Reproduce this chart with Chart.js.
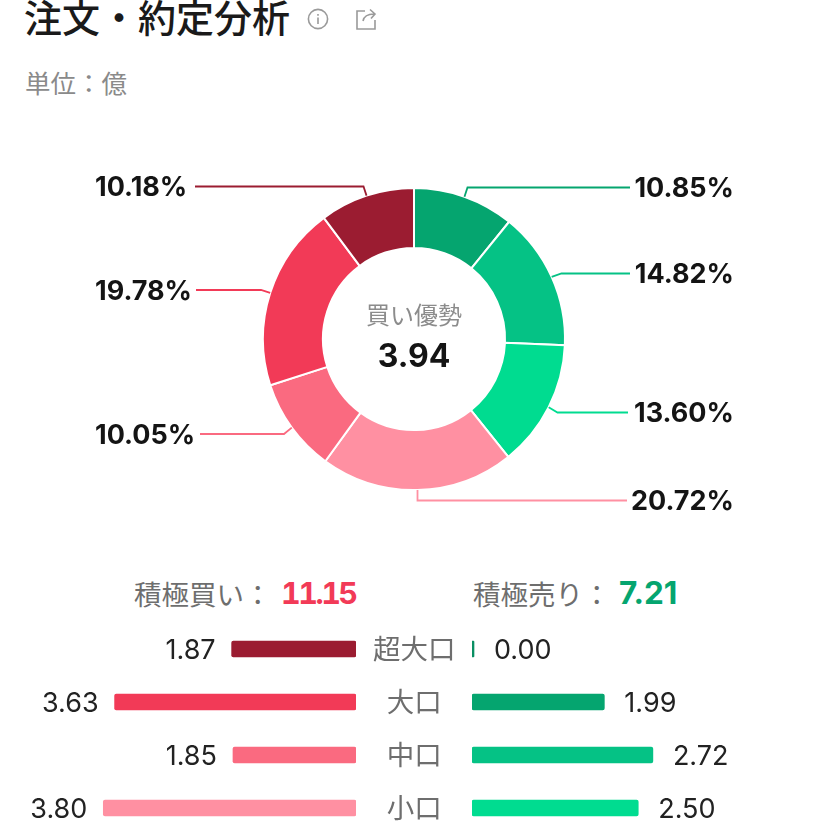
<!DOCTYPE html>
<html lang="ja">
<head>
<meta charset="utf-8">
<title>注文・約定分析</title>
<script src="https://cdn.jsdelivr.net/npm/chart.js@4"></script>
<style>
html,body{margin:0;padding:0;width:828px;height:828px;overflow:hidden;background:#fff}
body{position:relative;font-family:"Noto Sans CJK JP",sans-serif}
.t{position:absolute;white-space:nowrap}
.n{font-family:Inter,sans-serif;font-weight:700}
canvas{position:absolute;display:block}
</style>
</head>
<body>
<div class="t" style="left:24px;top:-12px;font-size:38px;line-height:56px;color:#1a1a1a;font-weight:500">注文・約定分析</div>
<svg style="position:absolute;left:306px;top:7px" width="24" height="24" viewBox="0 0 24 24" fill="none" stroke="#9a9a9a" stroke-width="1.6"><circle cx="12" cy="12" r="9.6"/><path d="M12 10.5v6.5M12 7v1.8"/></svg>
<svg style="position:absolute;left:354px;top:6px" width="24" height="24" viewBox="0 0 24 24" fill="none" stroke="#9a9a9a" stroke-width="1.6"><path d="M11 5H3v18h18v-9"/><path d="M9 15c1-5 4-7 11-7M16 3.5l5 4.5-4 4.5"/></svg>
<div class="t" style="left:25px;top:62px;font-size:25.5px;line-height:40px;color:#8a8a8a">単位：億</div>
<canvas id="donut" style="left:0;top:159px"></canvas>
<div class="t" style="left:314px;width:200px;top:294px;text-align:center;font-size:24px;line-height:40px;color:#8c8c8c">買い優勢</div>
<div class="t n" style="left:314px;width:200px;top:332px;text-align:center;font-size:32px;line-height:48px;color:#141414">3.94</div>
<div class="t" style="left:134px;top:573px;font-size:27.5px;line-height:40px;color:#6e6e6e">積極買い：</div>
<div class="t n" style="left:281px;top:573px;font-size:30.5px;line-height:40px;color:#F23A57;letter-spacing:-2.5px;font-variant-numeric:tabular-nums">11.15</div>
<div class="t" style="left:473px;top:573px;font-size:27.5px;line-height:40px;color:#6e6e6e">積極売り：</div>
<div class="t n" style="left:619px;top:573px;font-size:31.5px;line-height:40px;color:#05A56F">7.21</div>
<canvas id="buy" style="left:0;top:622px"></canvas>
<canvas id="sell" style="left:472px;top:622px"></canvas>
<script>
// Data
const shareLabels = ['10.85%','14.82%','13.60%','20.72%','10.05%','19.78%','10.18%'];
const shareValues = [10.85,14.82,13.60,20.72,10.05,19.78,10.18];
const shareColors = ['#05A56F','#05C285','#00DC90','#FF90A2','#FA6A80','#F23A57','#9B1C31'];
const tiers = ['超大口','大口','中口','小口'];
const buyValues = [1.87,3.63,1.85,3.80];
const sellValues = [0.00,1.99,2.72,2.50];
const buyColors = ['#9B1C31','#F23A57','#FA6A80','#FF90A2'];
const sellColors = ['#0A8F63','#05A56F','#05C285','#00DC90'];

// Leader-line layout (page px): elbow x, elbow y, line end x
const elbowX = [467.5,561.5,557.5,417.5,284,261,363.5];
const elbowY = [187.5,273.5,412.5,500.5,434,290,186.5];
const lineEndX = [630,630,628,627,200,196,195];
const labelRightX = 734, labelLeftX = 95;
const donutTop = 159;

const numFont = 'Inter, sans-serif';
Chart.defaults.animation = false;

const leaderPlugin = {
  id:'leaders',
  afterDatasetsDraw(chart){
    const ctx = chart.ctx, arcs = chart.getDatasetMeta(0).data;
    arcs.forEach((arc,i)=>{
      const p = arc.getProps(['x','y','startAngle','endAngle','outerRadius']);
      const a = (p.startAngle+p.endAngle)/2;
      const sx = p.x+Math.cos(a)*p.outerRadius, sy = p.y+Math.sin(a)*p.outerRadius;
      const ey = elbowY[i]-donutTop;
      ctx.save();
      ctx.strokeStyle = shareColors[i];
      ctx.lineWidth = 1.8;
      ctx.beginPath();
      ctx.moveTo(sx,sy);
      ctx.lineTo(elbowX[i],ey);
      ctx.lineTo(lineEndX[i],ey);
      ctx.stroke();
      const right = lineEndX[i]>p.x;
      ctx.fillStyle = '#141414';
      ctx.font = '700 27px '+numFont;
      ctx.textBaseline = 'middle';
      ctx.textAlign = right?'right':'left';
      ctx.fillText(shareLabels[i], right?labelRightX:labelLeftX, ey+1.5);
      ctx.restore();
    });
  }
};

function box(id,w,h){const c=document.getElementById(id);c.width=w;c.height=h;c.style.width=w+'px';c.style.height=h+'px';return c;}

new Chart(box('donut',828,360),{
  type:'doughnut',
  data:{labels:shareLabels,datasets:[{data:shareValues,backgroundColor:shareColors,borderColor:'#fff',borderWidth:2}]},
  options:{responsive:false,radius:151,cutout:'60.3%',rotation:0,
    layout:{padding:0},
    plugins:{legend:{display:false},tooltip:{enabled:false}}},
  plugins:[leaderPlugin]
});

const valuePlugin = {
  id:'values',
  afterDatasetsDraw(chart,args,opts){
    const ctx=chart.ctx, meta=chart.getDatasetMeta(0), vals=chart.data.datasets[0].data;
    ctx.save();
    ctx.font='400 27px '+numFont;
    ctx.fillStyle='#222';
    ctx.textBaseline='middle';
    ctx.textAlign=opts.dir<0?'right':'left';
    meta.data.forEach((b,i)=>{
      ctx.fillText(vals[i].toFixed(2), b.x+opts.dir*opts.gap, b.y+2);
    });
    ctx.restore();
  }
};

const pxPerUnit = 66.5;
function barChart(id,w,values,colors,reverse,withTiers,gap){
  return new Chart(box(id,w,214),{
    type:'bar',
    data:{labels:tiers,datasets:[{data:values,backgroundColor:colors,borderRadius:2,borderSkipped:false,barThickness:16,minBarLength:2}]},
    options:{responsive:false,indexAxis:'y',
      layout:{padding:{top:0.5,bottom:1.5,left:0,right:0}},
      scales:{
        x:{display:false,reverse:reverse,min:0,max:356/pxPerUnit},
        y:{display:withTiers,position:'right',
           grid:{display:false},border:{display:false},
           afterFit(s){ if(withTiers){ s.width=116; s.paddingTop=0; s.paddingBottom=0; } },
           ticks:{font:{family:'"Noto Sans CJK JP"',size:27.5},color:'#6e6e6e',padding:9,crossAlign:'center'}}
      },
      plugins:{legend:{display:false},tooltip:{enabled:false},values:{dir:reverse?-1:1,gap:gap}}},
    plugins:[valuePlugin]
  });
}
barChart('buy',472,buyValues,buyColors,true,true,16);
barChart('sell',356,sellValues,sellColors,false,false,20);
</script>
</body>
</html>
